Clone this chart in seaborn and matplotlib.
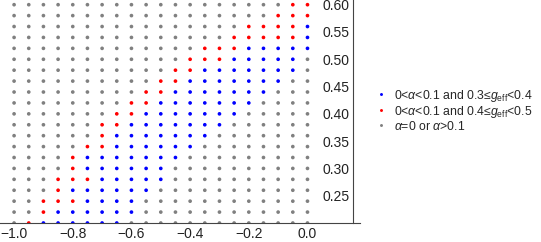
import numpy as np
import pandas as pd
import matplotlib
matplotlib.use("Agg")
import matplotlib.pyplot as plt
import seaborn as sns
from matplotlib.ticker import MultipleLocator, FixedLocator, FuncFormatter

# grid of scanned points
x_vals = [-1.0, -0.95, -0.9, -0.85, -0.8, -0.75, -0.7, -0.65, -0.6, -0.55, -0.5,
          -0.45, -0.4, -0.35, -0.3, -0.25, -0.2, -0.15, -0.1, -0.05, 0.0]
y_vals = [0.60, 0.58, 0.56, 0.54, 0.52, 0.50, 0.48, 0.46, 0.44, 0.42, 0.40,
          0.38, 0.36, 0.34, 0.32, 0.30, 0.28, 0.26, 0.24, 0.22, 0.20]

# b = blue, r = red, g = gray ; one string per row (top row first)
rows = [
    "gggggggggggggggggggrr",
    "ggggggggggggggggggrrr",
    "ggggggggggggggggrrrrb",
    "gggggggggggggggrrrrrb",
    "gggggggggggggrrrbbbbb",
    "ggggggggggggrrrbbbbbg",
    "gggggggggggrrbbbbbbbg",
    "ggggggggggrrbbbbbbbgg",
    "gggggggggrrbbbbbbbggg",
    "ggggggggrrbbbbbbbgggg",
    "gggggggrrbbbbbbbggggg",
    "ggggggrrbbbbbbbgggggg",
    "ggggggrbbbbbbbggggggg",
    "gggggrrbbbbbbgggggggg",
    "ggggrbbbbbbbggggggggg",
    "ggggrbbbbbbgggggggggg",
    "gggrrrbbbbbgggggggggg",
    "gggrbbbbbbggggggggggg",
    "ggrrrbbbbgggggggggggg",
    "ggrbbbbbbgggggggggggg",
    "grbbbbbbggggggggggggg",
]

labels = {
    "b": r"0<$\alpha$<0.1 and 0.3≤$g_{\mathrm{eff}}$<0.4",
    "r": r"0<$\alpha$<0.1 and 0.4≤$g_{\mathrm{eff}}$<0.5",
    "g": r"$\alpha$=0 or $\alpha$>0.1",
}
colors = {"b": "#0000ff", "r": "#ff0000", "g": "#808080"}

recs = []
for yv, row in zip(y_vals, rows):
    for xv, c in zip(x_vals, row):
        recs.append({"x": xv, "y": yv, "cat": labels[c]})
df = pd.DataFrame(recs)

sns.set_theme(style="white")
plt.rcParams["font.family"] = ["Liberation Sans", "DejaVu Sans"]
plt.rcParams["mathtext.fontset"] = "custom"
plt.rcParams["mathtext.rm"] = "Liberation Sans"
plt.rcParams["mathtext.it"] = "Liberation Sans:italic"

fig = plt.figure(figsize=(5.41, 2.42), dpi=100)
ax = fig.add_axes([0, 19 / 242, 360 / 541, 223 / 242])

order = [labels["b"], labels["r"], labels["g"]]
pal = {labels[k]: colors[k] for k in colors}
sns.scatterplot(data=df, x="x", y="y", hue="cat", hue_order=order, palette=pal,
                s=7, linewidth=0, ax=ax)

ax.set_xlim(-1.048, 0.179)
ax.set_ylim(0.20, 0.6086)
ax.set_xlabel("")
ax.set_ylabel("")

for s in ["top", "right"]:
    ax.spines[s].set_visible(False)
ax.spines["left"].set_position(("data", 0.154))
for s in ["left", "bottom"]:
    ax.spines[s].set_color("#444444")
    ax.spines[s].set_linewidth(0.8)
    ax.spines[s].set_zorder(3)

minus = lambda v, f: (f % v).replace("-", "\u2212")
ax.xaxis.set_major_locator(FixedLocator([-1.0, -0.8, -0.6, -0.4, -0.2, 0.0]))
ax.xaxis.set_minor_locator(MultipleLocator(0.05))
ax.xaxis.set_major_formatter(FuncFormatter(lambda v, p: minus(v, "%.1f")))
ax.yaxis.set_major_locator(FixedLocator([0.25, 0.30, 0.35, 0.40, 0.45, 0.50, 0.55, 0.60]))
ax.yaxis.set_minor_locator(MultipleLocator(0.01))
ax.yaxis.set_major_formatter(FuncFormatter(lambda v, p: "%.2f" % v))

ax.tick_params(which="both", direction="in", color="#444444", labelcolor="#222222",
               labelsize=10, width=0.7)
ax.tick_params(which="major", length=4)
ax.tick_params(which="minor", length=2)
ax.tick_params(axis="y", pad=2)
ax.tick_params(axis="x", pad=3)

sns.move_legend(ax, "center left", bbox_to_anchor=(376 / 541, 1 - 110 / 242),
                bbox_transform=fig.transFigure, frameon=False, title=None,
                fontsize=8.8, handletextpad=0.62, labelspacing=0.0,
                markerscale=0.8, handlelength=0.85, borderpad=0, borderaxespad=0)

fig.savefig("out.png", dpi=100)
